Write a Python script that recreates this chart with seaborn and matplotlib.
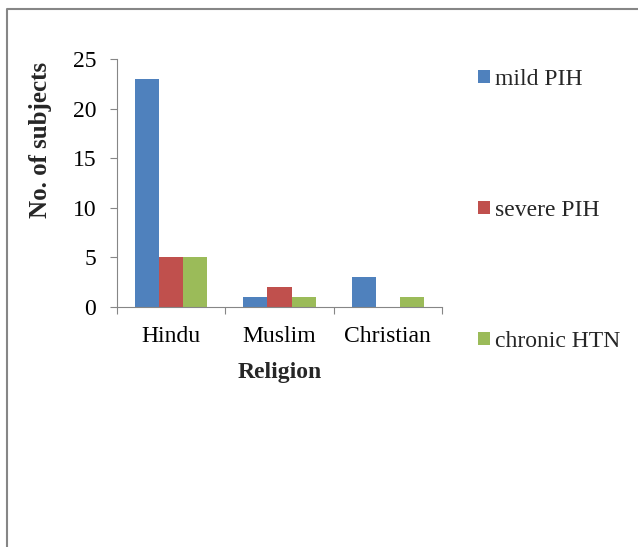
import matplotlib
matplotlib.use("Agg")
import matplotlib.pyplot as plt
from matplotlib.lines import Line2D
from matplotlib.ticker import FixedLocator
import pandas as pd
import seaborn as sns

religions = ["Hindu", "Muslim", "Christian"]
mild_pih = [23, 1, 3]
severe_pih = [5, 2, 0]
chronic_htn = [5, 1, 1]
series_names = ["mild PIH", "severe PIH", "chronic HTN"]
colors = ["#4F81BD", "#C0504D", "#9BBB59"]
y_ticks = [0, 5, 10, 15, 20, 25]

df = pd.DataFrame({
    "Religion": religions * 3,
    "Group": [series_names[0]] * 3 + [series_names[1]] * 3 + [series_names[2]] * 3,
    "Count": mild_pih + severe_pih + chronic_htn,
})

sns.set_theme(style="white")
plt.rcParams["font.family"] = ["Liberation Serif", "DejaVu Serif"]

FS = 17
GREY = "#868686"

fig = plt.figure(figsize=(6.38, 5.47), dpi=100)
ax = fig.add_axes([117 / 638, 1 - 307 / 547, (442 - 117) / 638, (307 - 59) / 547])

sns.barplot(data=df, x="Religion", y="Count", hue="Group", order=religions,
            hue_order=series_names, palette=colors, width=0.67, saturation=1,
            linewidth=0, ax=ax)

ax.set_xlim(-0.5, 2.5)
ax.set_ylim(0, 25)
ax.set_yticks(y_ticks)
ax.tick_params(axis="y", labelsize=FS, length=5, width=0.8, color=GREY,
               direction="out", left=True, pad=10, labelcolor="black")
ax.tick_params(axis="x", which="major", length=0, labelsize=FS, pad=13.5,
               labelcolor="black")
ax.xaxis.set_minor_locator(FixedLocator([-0.5, 0.5, 1.5, 2.5]))
ax.tick_params(axis="x", which="minor", length=5, width=0.8, color=GREY,
               direction="out", bottom=True)

for side in ["top", "right"]:
    ax.spines[side].set_visible(False)
for side in ["left", "bottom"]:
    ax.spines[side].set_color(GREY)
    ax.spines[side].set_linewidth(0.8)

ax.set_xlabel("Religion", fontsize=FS, fontweight="bold", labelpad=11)
ax.set_ylabel("No. of subjects", fontsize=18, fontweight="bold")
ax.yaxis.set_label_coords(41 / 638, 1 - 140 / 547, transform=fig.transFigure)
ax.yaxis.label.set_verticalalignment("center")

handles, labels = ax.get_legend_handles_labels()
ax.legend(handles, labels, loc="upper left", bbox_to_anchor=(478 / 638, 1 - 69 / 547),
          bbox_transform=fig.transFigure, frameon=False, fontsize=FS,
          handlelength=0.5, handleheight=0.5, handletextpad=0.2,
          labelspacing=4.66, borderaxespad=0, borderpad=0)

# chart area border (top and left edges)
fig.add_artist(Line2D([7 / 638, 7 / 638, 1.0], [0.0, 1 - 9 / 547, 1 - 9 / 547],
                      transform=fig.transFigure, color=GREY, linewidth=1.5))

fig.savefig("out.png", dpi=100, facecolor="white")
